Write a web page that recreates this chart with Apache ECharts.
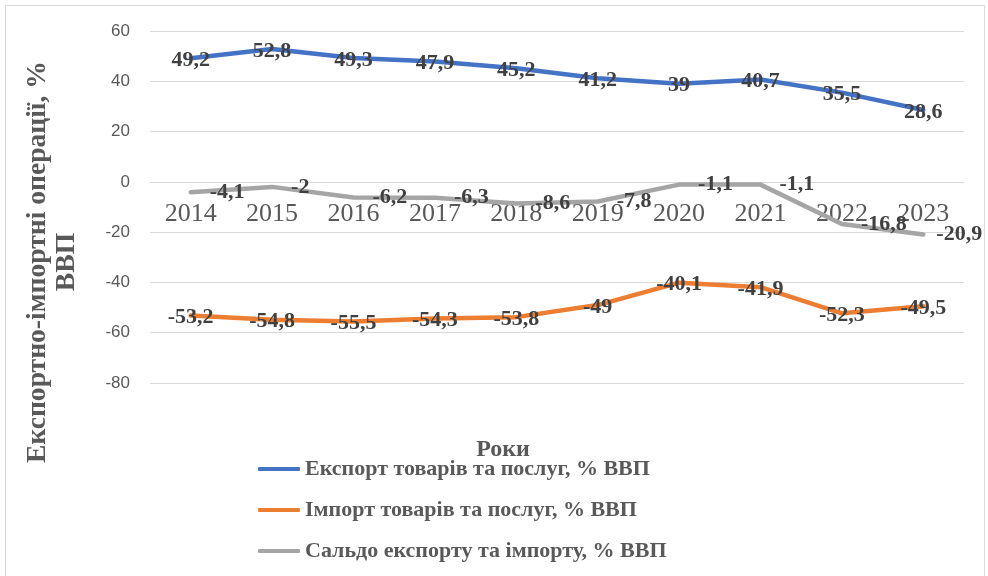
<!DOCTYPE html>
<html>
<head>
<meta charset="utf-8">
<script src="https://cdn.jsdelivr.net/npm/echarts@6/dist/echarts.min.js"></script>
<style>html,body{margin:0;padding:0;background:#fff;}#c{width:988px;height:576px;}</style>
</head>
<body>
<div id="c"></div>
<script>
var years = ['2014','2015','2016','2017','2018','2019','2020','2021','2022','2023'];
var exportVals = [49.2, 52.8, 49.3, 47.9, 45.2, 41.2, 39, 40.7, 35.5, 28.6];
var importVals = [-53.2, -54.8, -55.5, -54.3, -53.8, -49, -40.1, -41.9, -52.3, -49.5];
var saldoVals = [-4.1, -2, -6.2, -6.3, -8.6, -7.8, -1.1, -1.1, -16.8, -20.9];
var seriesNames = ['Експорт товарів та послуг, % ВВП', 'Імпорт товарів та послуг, % ВВП', 'Сальдо експорту та імпорту, % ВВП'];
var yTicks = {min: -80, max: 60, interval: 20};
var yTitle = 'Експортно-імпортні операції, %\nВВП';
var xTitle = 'Роки';

var serif = '"Liberation Serif", "DejaVu Serif", serif';
function fmt(p){ return String(p.value).replace('.', ','); }
var labelBase = {show: true, color: '#404040', fontFamily: serif, fontWeight: 'bold', fontSize: 22, formatter: fmt};

var chart = echarts.init(document.getElementById('c'), null, {renderer: 'canvas'});
chart.setOption({
  animation: false,
  backgroundColor: '#fff',
  grid: {left: 150, right: 24, top: 31, bottom: 193, containLabel: false},
  xAxis: {
    type: 'category', data: years, boundaryGap: true, position: 'bottom', offset: -201,
    axisLine: {show: true, onZero: false, lineStyle: {color: '#D9D9D9', width: 1}},
    axisTick: {show: false},
    axisLabel: {color: '#595959', fontFamily: serif, fontSize: 26, margin: 19}
  },
  yAxis: {
    type: 'value', min: yTicks.min, max: yTicks.max, interval: yTicks.interval,
    axisLine: {show: false}, axisTick: {show: false},
    splitLine: {lineStyle: {color: '#D9D9D9', width: 1}},
    axisLabel: {color: '#595959', fontFamily: '"Liberation Sans", Arial, sans-serif', fontSize: 17, margin: 20}
  },
  legend: {
    orient: 'vertical', left: 253, top: 453, itemGap: 19,
    itemWidth: 42, itemHeight: 4, icon: 'roundRect',
    itemStyle: {opacity: 1},
    textStyle: {color: '#595959', fontFamily: serif, fontWeight: 'bold', fontSize: 22},
    data: seriesNames
  },
  graphic: [
    {type: 'rect', shape: {x: 5.5, y: 5.5, width: 979, height: 600}, style: {fill: 'none', stroke: '#D9D9D9', lineWidth: 1}, silent: true},
    {type: 'text', x: 52, y: 262, rotation: Math.PI / 2,
     style: {text: yTitle, fill: '#595959', font: 'bold 27.6px ' + serif, align: 'center', verticalAlign: 'middle', lineHeight: 29}},
    {type: 'text', x: 503, y: 450,
     style: {text: xTitle, fill: '#595959', font: 'bold 24px ' + serif, align: 'center', verticalAlign: 'middle'}}
  ],
  series: [
    {name: seriesNames[0], type: 'line', data: exportVals, symbol: 'circle', symbolSize: 2, showSymbol: true, z: 3,
     lineStyle: {color: '#4472C4', width: 4.5, cap: 'round', join: 'round'}, itemStyle: {color: '#4472C4'},
     label: Object.assign({}, labelBase, {position: 'inside', offset: [0, 2]})},
    {name: seriesNames[1], type: 'line', data: importVals, symbol: 'circle', symbolSize: 2, showSymbol: true, z: 3,
     lineStyle: {color: '#ED7D31', width: 4.5, cap: 'round', join: 'round'}, itemStyle: {color: '#ED7D31'},
     label: Object.assign({}, labelBase, {position: 'inside', offset: [0, 2]})},
    {name: seriesNames[2], type: 'line', symbol: 'circle', symbolSize: 2, showSymbol: true, z: 3,
     data: saldoVals.map(function(v, i){
       return i === saldoVals.length - 1 ? {value: v, label: {distance: 12}} : v;
     }),
     lineStyle: {color: '#A5A5A5', width: 4.5, cap: 'round', join: 'round'}, itemStyle: {color: '#A5A5A5'},
     label: Object.assign({}, labelBase, {position: 'right', distance: 18})}
  ]
});
</script>
</body>
</html>
